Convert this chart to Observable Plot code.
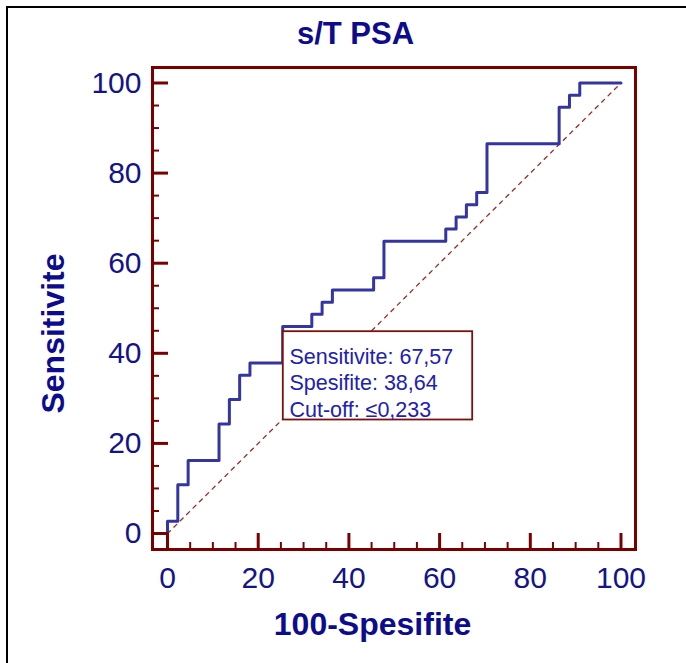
<!DOCTYPE html>
<html>
<head>
<meta charset="utf-8">
<script src="https://cdn.jsdelivr.net/npm/d3@7"></script>
<script src="https://cdn.jsdelivr.net/npm/@observablehq/plot@0.6"></script>
<style>
  html, body { margin: 0; padding: 0; background: #fff; overflow: hidden; }
  #wrap { position: relative; width: 686px; height: 663px; }
  #border { position: absolute; left: 6px; top: 6px; width: 720px; height: 720px;
            border-left: 2px solid #000; border-top: 2px solid #000; pointer-events: none; }
  #chart { position: absolute; left: 0; top: 0; }
</style>
</head>
<body>
<div id="wrap"><div id="chart"></div><div id="border"></div></div>
<script>
// ROC curve vertices (100-Specificity, Sensitivity)
const fpr = [0, 0, 2.27, 4.55, 11.36, 13.64, 15.91, 18.18, 25.4, 31.82, 34.09, 36.36, 45.45, 47.73, 61.36, 63.64, 65.91, 68.18, 70.45, 86.36, 88.64, 90.91, 100];
const tpr = [0, 2.70, 10.81, 16.22, 24.32, 29.73, 35.14, 37.84, 45.95, 48.65, 51.35, 54.05, 56.76, 64.86, 67.57, 70.27, 72.97, 75.68, 86.49, 94.59, 97.30, 100, 100];
// reference diagonal
const diagX = [0, 100];
const diagY = [0, 100];
// ticks
const majorTicks = [0, 20, 40, 60, 80, 100];
const minorTicks = [5, 10, 15, 25, 30, 35, 45, 50, 55, 65, 70, 75, 85, 90, 95];
// texts
const title = "s/T PSA";
const xLabel = "100-Spesifite";
const yLabel = "Sensitivite";
const boxLines = ["Sensitivite: 67,57", "Spesifite: 38,64", "Cut-off: \u22640,233"];

const W = 686, H = 663;
const mL = 152, mR = 51, mT = 67, mB = 114;
const fW = W - mL - mR, fH = H - mT - mB;
const red = "#7a0000";
const navy = "#141488";
const font = "'Liberation Sans', Arial, sans-serif";

const chart = Plot.plot({
  width: W, height: H,
  marginLeft: mL, marginRight: mR, marginTop: mT, marginBottom: mB,
  x: {domain: [-3.31, 103.2]},
  y: {domain: [-3.55, 103.44]},
  style: {fontFamily: font, background: "#fff", overflow: "visible"},
  marks: [
    Plot.line(diagX, {x: diagX, y: diagY, stroke: "#a02828", strokeWidth: 1.3, strokeDasharray: "4,5"}),
    Plot.line(fpr, {x: fpr, y: tpr, curve: "step-after", stroke: "#3535a2", strokeWidth: 3}),
    Plot.ruleX(minorTicks, {x: d => d, stroke: red, strokeWidth: 2, insetTop: fH - 7}),
    Plot.ruleX(majorTicks, {x: d => d, stroke: red, strokeWidth: 3, insetTop: fH - 16}),
    Plot.ruleY(minorTicks, {y: d => d, stroke: red, strokeWidth: 2, insetRight: fW - 7}),
    Plot.ruleY(majorTicks, {y: d => d, stroke: red, strokeWidth: 3, insetRight: fW - 16}),
    Plot.frame({stroke: red, strokeWidth: 3}),
    Plot.axisX(majorTicks, {tickSize: 0, tickPadding: 17, fontSize: 30, fill: navy, label: null}),
    Plot.axisY(majorTicks, {tickSize: 0, tickPadding: 11, fontSize: 30, fill: navy, label: null}),
    // annotation box
    Plot.frame({fill: "#fff", stroke: "#7b1010", strokeWidth: 1.8,
      insetLeft: 282.3 - mL, insetTop: 330.7 - mT, insetRight: (W - mR) - 471.7, insetBottom: (H - mB) - 419}),
    Plot.text([boxLines.join("\n")], {frameAnchor: "top-left", textAnchor: "start", lineAnchor: "top",
      dx: 289 - mL, dy: 344.5 - mT, fontSize: 21.5, lineHeight: 1.23, fill: "#2020b4"}),
    // titles
    Plot.text([title], {frameAnchor: "top", textAnchor: "middle", lineAnchor: "top", dx: 355 - (mL + fW / 2), dy: 21 - mT,
      fontSize: 31, fontWeight: "bold", fill: "#0c0c8c"}),
    Plot.text([xLabel], {frameAnchor: "bottom", textAnchor: "middle", lineAnchor: "top", dx: 372 - (mL + fW / 2), dy: 611.6 - (H - mB),
      fontSize: 32, fontWeight: "bold", fill: "#0c0c8c"}),
    Plot.text([yLabel], {frameAnchor: "left", textAnchor: "middle", lineAnchor: "middle", rotate: -90, dx: 53 - mL, dy: 333 - (mT + fH / 2),
      fontSize: 32, fontWeight: "bold", fill: "#0c0c8c"})
  ]
});
document.getElementById("chart").appendChild(chart);
</script>
</body>
</html>
